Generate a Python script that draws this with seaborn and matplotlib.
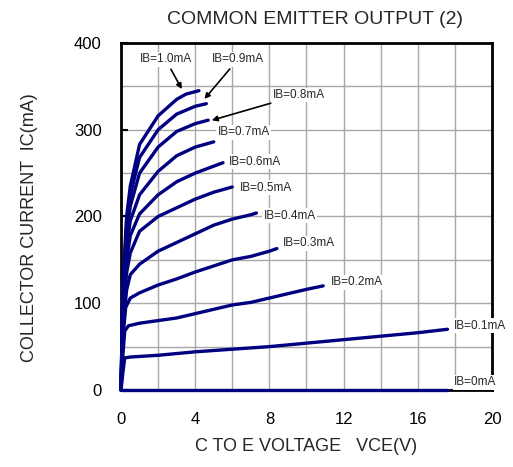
import pandas as pd
import numpy as np
import matplotlib
matplotlib.use("Agg")
import matplotlib.pyplot as plt
import seaborn as sns

# VCE (V) / IC (mA) per base current
ib_labels = ['IB=0mA', 'IB=0.1mA', 'IB=0.2mA', 'IB=0.3mA', 'IB=0.4mA', 'IB=0.5mA',
             'IB=0.6mA', 'IB=0.7mA', 'IB=0.8mA', 'IB=0.9mA', 'IB=1.0mA']

vce_0 = [0, 17.6]
ic_0 = [0, 0]
vce_1 = [0, 0.1, 0.2, 0.5, 2, 4, 6, 8, 10, 12, 14, 16, 17.6]
ic_1 = [0, 20, 37, 38, 40, 44, 47, 50, 54, 58, 62, 66, 70]
vce_2 = [0, 0.1, 0.2, 0.4, 1, 2, 3, 4, 5, 6, 7, 8, 9, 10, 10.9]
ic_2 = [0, 40, 68, 74, 77, 80, 83, 88, 93, 98, 101, 106, 111, 116, 120]
vce_3 = [0, 0.1, 0.25, 0.5, 1, 2, 3, 4, 5, 6, 7, 8, 8.4]
ic_3 = [0, 60, 95, 106, 112, 121, 128, 136, 143, 150, 154, 160, 163]
vce_4 = [0, 0.1, 0.3, 0.5, 1, 2, 3, 4, 5, 6, 7, 7.3]
ic_4 = [0, 70, 115, 133, 145, 160, 170, 180, 190, 197, 202, 204]
vce_5 = [0, 0.1, 0.3, 0.5, 1, 2, 3, 4, 5, 6]
ic_5 = [0, 80, 135, 158, 183, 200, 210, 220, 228, 234]
vce_6 = [0, 0.1, 0.3, 0.5, 1, 2, 3, 4, 5, 5.5]
ic_6 = [0, 90, 150, 178, 203, 225, 240, 250, 258, 262]
vce_7 = [0, 0.1, 0.3, 0.5, 1, 2, 3, 4, 5]
ic_7 = [0, 100, 165, 195, 225, 252, 270, 280, 286]
vce_8 = [0, 0.1, 0.3, 0.5, 1, 2, 3, 4, 4.7]
ic_8 = [0, 110, 180, 212, 250, 280, 298, 307, 311]
vce_9 = [0, 0.1, 0.3, 0.5, 1, 2, 3, 4, 4.6]
ic_9 = [0, 115, 190, 225, 268, 300, 318, 327, 330]
vce_10 = [0, 0.1, 0.3, 0.5, 1, 2, 3, 3.5, 4.2]
ic_10 = [0, 120, 200, 235, 283, 316, 335, 341, 345]

vce_all = [vce_0, vce_1, vce_2, vce_3, vce_4, vce_5, vce_6, vce_7, vce_8, vce_9, vce_10]
ic_all = [ic_0, ic_1, ic_2, ic_3, ic_4, ic_5, ic_6, ic_7, ic_8, ic_9, ic_10]

frames = []
for lab, v, i in zip(ib_labels, vce_all, ic_all):
    frames.append(pd.DataFrame({'VCE': v, 'IC': i, 'IB': lab}))
df = pd.concat(frames, ignore_index=True)

sns.set_style('white')
plt.rcParams['font.family'] = ['Liberation Sans', 'DejaVu Sans']

fig = plt.figure(figsize=(5.13, 4.67), dpi=100)
ax = fig.add_axes([0.2359, 0.1649, 0.959 - 0.2359, 0.908 - 0.1649])

ax.set_xlim(0, 20)
ax.set_ylim(0, 400)
ax.set_xticks(np.arange(0, 21, 4))
ax.set_yticks(np.arange(0, 401, 100))
ax.set_xticks(np.arange(0, 21, 2), minor=True)
ax.set_yticks(np.arange(0, 401, 50), minor=True)
ax.grid(which='both', color='#a8a8a8', lw=1.0, zorder=0)
ax.set_axisbelow(True)

sns.lineplot(data=df, x='VCE', y='IC', hue='IB', palette=['#000080'] * len(ib_labels),
             estimator=None, sort=False, legend=False, lw=2.4, ax=ax)
for ln in ax.lines:
    ln.set_clip_on(False)
    ln.set_zorder(5)

for s in ax.spines.values():
    s.set_color('black')
    s.set_linewidth(2)
    s.set_visible(True)

ax.tick_params(axis='both', which='major', direction='in', length=5, width=1.5,
               labelsize=12, colors='black')
ax.tick_params(axis='x', which='major', pad=16)
ax.tick_params(axis='y', which='major', pad=14, left=True)
ax.tick_params(axis='x', which='major', bottom=False)
ax.tick_params(which='minor', length=0)

ax.set_xlabel('C TO E VOLTAGE   VCE(V)', fontsize=13, labelpad=8)
ax.set_ylabel('COLLECTOR CURRENT  IC(mA)', fontsize=13, labelpad=16)
ax.yaxis.set_label_coords(-0.225, 0.467)
ax.set_title('COMMON EMITTER OUTPUT (2)', fontsize=14, x=0.522, pad=14)

box = dict(facecolor='white', edgecolor='none', pad=1)
fs = 8.5
# labels for lower curves, left aligned
label_pos = {
    'IB=0mA': (17.95, 9), 'IB=0.1mA': (17.95, 74), 'IB=0.2mA': (11.3, 124),
    'IB=0.3mA': (8.7, 169), 'IB=0.4mA': (7.7, 201), 'IB=0.5mA': (6.4, 233),
    'IB=0.6mA': (5.8, 263), 'IB=0.7mA': (5.2, 297),
}
for lab, (x, y) in label_pos.items():
    ax.text(x, y, lab, fontsize=fs, ha='left', va='center', bbox=box, zorder=6)

arrow = dict(arrowstyle='-|>', color='black', lw=1.2, mutation_scale=8)
ax.annotate('IB=1.0mA', xy=(3.35, 344), xytext=(2.4, 381), fontsize=fs, ha='center',
            va='center', bbox=box, arrowprops=arrow, zorder=6)
ax.annotate('IB=0.9mA', xy=(4.4, 333), xytext=(6.3, 381), fontsize=fs, ha='center',
            va='center', bbox=box, arrowprops=arrow, zorder=6)
ax.annotate('IB=0.8mA', xy=(4.75, 310), xytext=(9.6, 340), fontsize=fs, ha='center',
            va='center', bbox=box, arrowprops=arrow, zorder=6)

fig.savefig('out.png', dpi=100)
